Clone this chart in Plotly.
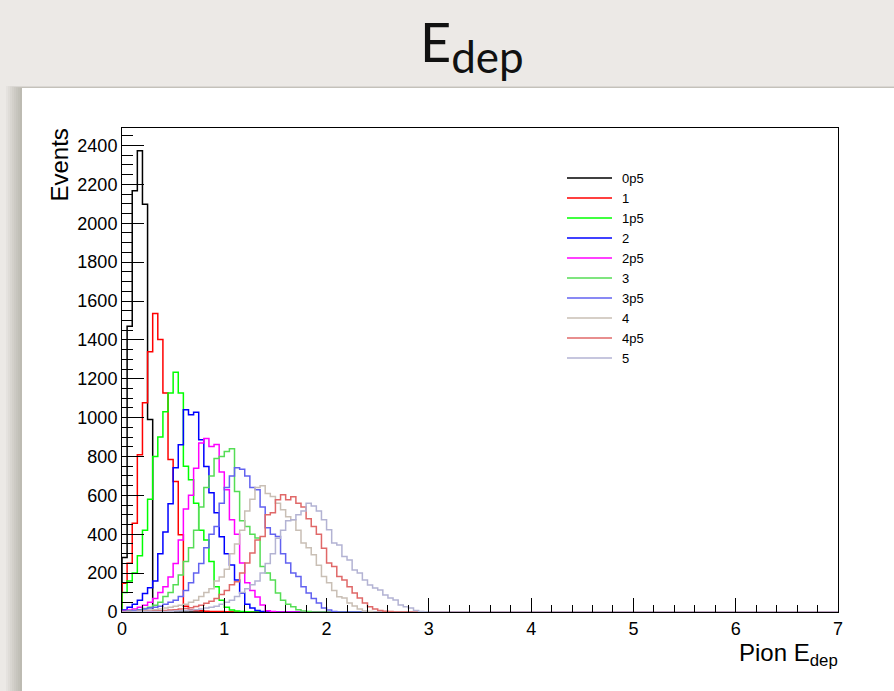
import numpy as np
import plotly.graph_objects as go

# ---------------- data ----------------
XMIN, XMAX, NBINS = 0.0, 7.0, 140
names = ["0p5", "1", "1p5", "2", "2p5", "3", "3p5", "4", "4p5", "5"]

h_0p5 = [280, 1470, 2167, 2373, 2098, 990, 12, 6, 3, 2, 1]
h_1 = [148, 251, 457, 809, 1076, 1339, 1536, 1402, 1127, 784, 672, 397, 30, 12, 8, 6, 4, 3, 2, 2, 1]
h_1p5 = [100, 160, 200, 290, 420, 580, 800, 900, 1030, 1127, 1234, 1127, 750, 680, 560, 420, 370, 260,
         130, 60, 25, 10, 5, 2, 1]
h_2 = [10, 25, 40, 60, 95, 125, 160, 300, 412, 557, 742, 861, 1041, 1015, 1027, 886, 749, 613, 510, 387,
       300, 242, 165, 98, 40, 20, 8, 3, 1]
h_2p5 = [5, 10, 15, 25, 35, 50, 70, 100, 130, 180, 250, 370, 530, 600, 740, 870, 892, 852, 862, 720,
         629, 474, 400, 252, 150, 110, 77, 36, 6, 2]
h_3 = [3, 5, 8, 12, 18, 25, 35, 50, 80, 100, 140, 190, 260, 330, 420, 540, 640, 700, 790, 800, 826, 840,
       620, 470, 440, 400, 381, 234, 200, 165, 98, 60, 40, 27, 12, 5, 2]
h_3p5 = [2, 4, 6, 10, 15, 20, 25, 30, 40, 50, 60, 80, 110, 150, 200, 250, 330, 400, 440, 560, 640, 700,
         742, 735, 700, 640, 629, 540, 433, 400, 388, 300, 252, 200, 182, 130, 98, 70, 46, 20, 10, 3]
h_4 = [1, 2, 3, 5, 7, 10, 12, 15, 20, 25, 30, 35, 40, 50, 60, 80, 100, 120, 160, 180, 220, 300, 350, 420,
       520, 580, 640, 650, 610, 594, 560, 526, 490, 474, 420, 355, 330, 294, 240, 182, 150, 110, 79, 72,
       46, 31, 15, 5, 2]
h_4p5 = [0, 1, 1, 2, 3, 4, 5, 6, 8, 10, 12, 15, 18, 22, 28, 35, 45, 55, 70, 90, 110, 140, 156, 200, 252,
         304, 371, 388, 500, 510, 577, 603, 577, 593, 560, 540, 480, 440, 400, 328, 252, 234, 182, 165,
         130, 98, 72, 46, 27, 15, 8, 4, 2]
h_5 = [0, 0, 1, 1, 1, 2, 2, 3, 3, 4, 5, 6, 8, 10, 12, 15, 20, 25, 30, 40, 50, 60, 80, 100, 120, 140, 160,
       200, 250, 300, 380, 420, 470, 474, 500, 520, 560, 545, 520, 474, 423, 355, 345, 285, 268, 216, 200,
       165, 139, 124, 113, 88, 72, 62, 36, 27, 20, 8, 3, 1]
hists = [h_0p5, h_1, h_1p5, h_2, h_2p5, h_3, h_3p5, h_4, h_4p5, h_5]

colors = ["#000000", "#ff0000", "#00ff00", "#0000ff", "#ff00ff",
          "#55dd55", "#6262f0", "#c9bfb5", "#e06868", "#b3b3d3"]

x_ticks = [0, 1, 2, 3, 4, 5, 6, 7]
y_ticks = [0, 200, 400, 600, 800, 1000, 1200, 1400, 1600, 1800, 2000, 2200, 2400]
Y_MAX = 2490

# ---------------- layout geometry (pixels) ----------------
W, H = 894, 691
L, R, T, B = 122, 838, 128, 612


def px(xp):
    return (xp - L) / (R - L)


def py(yp):
    return (B - yp) / (B - T)


edges = np.linspace(XMIN, XMAX, NBINS + 1)

fig = go.Figure()
for name, vals, col in zip(names, hists, colors):
    full = list(vals) + [0] * (NBINS - len(vals))
    xs = [XMIN] + list(edges[:-1]) + [XMAX]
    ys = [0] + full + [full[-1]]
    fig.add_trace(go.Scatter(
        x=xs, y=ys, mode="lines", name=name, showlegend=False,
        line=dict(color=col, width=1.5, shape="hv"),
        hoverinfo="skip",
    ))

# white panel with soft shadow on the left
shapes = []
for i in range(8):
    off = 16 - 2 * i
    shapes.append(dict(type="rect", xref="paper", yref="paper", layer="below",
                       x0=px(22 - off), x1=px(W + 20), y0=py(H + 20), y1=py(88 - off / 8),
                       fillcolor="rgba(80,70,60,0.04)", line=dict(width=0)))
shapes.append(dict(type="rect", xref="paper", yref="paper", layer="below",
                   x0=px(22), x1=px(W + 20), y0=py(H + 20), y1=py(88),
                   fillcolor="white", line=dict(width=0)))

# legend drawn as line samples + labels
LEG_X0, LEG_X1, LEG_TX, LEG_Y0, LEG_DY = 567, 612, 620, 178, 20
for i, (name, col) in enumerate(zip(names, colors)):
    yy = LEG_Y0 + LEG_DY * i
    shapes.append(dict(type="line", xref="paper", yref="paper",
                       x0=px(LEG_X0), x1=px(LEG_X1), y0=py(yy), y1=py(yy),
                       line=dict(color=col, width=1.5)))

annotations = [
    dict(text="E<sub><span style='font-size:44px'>dep</span></sub>", xref="paper", yref="paper",
         x=px(472), y=py(45), xanchor="center", yanchor="middle", showarrow=False,
         font=dict(family="Lato", size=54, color="#111111")),
    dict(text="Events", xref="paper", yref="paper", x=px(59), y=py(127),
         xanchor="center", yanchor="top", textangle=-90, showarrow=False,
         font=dict(family="Liberation Sans", size=24, color="black")),
    dict(text="Pion E<sub>dep</sub>", xref="paper", yref="paper", x=px(840), y=py(637),
         xanchor="right", yanchor="top", showarrow=False,
         font=dict(family="Liberation Sans", size=24, color="black")),
]
for i, name in enumerate(names):
    yy = LEG_Y0 + LEG_DY * i
    annotations.append(dict(text=name, xref="paper", yref="paper", x=px(LEG_TX), y=py(yy),
                            xanchor="left", yanchor="middle", showarrow=False,
                            font=dict(family="Liberation Sans", size=13, color="black")))

fig.update_layout(
    width=W, height=H,
    margin=dict(l=L, r=W - R, t=T, b=H - B),
    paper_bgcolor="#ece9e6",
    plot_bgcolor="white",
    showlegend=False,
    shapes=shapes,
    annotations=annotations,
    xaxis=dict(range=[XMIN, XMAX], tickvals=x_ticks, ticktext=[str(v) for v in x_ticks],
               ticks="inside", ticklen=14, tickwidth=1, tickcolor="black",
               minor=dict(dtick=0.2, ticks="inside", ticklen=7, tickcolor="black", tickwidth=1),
               showline=True, linecolor="black", linewidth=1, mirror=True,
               showgrid=False, zeroline=False,
               tickfont=dict(family="Liberation Sans", size=18, color="black")),
    yaxis=dict(range=[0, Y_MAX], tickvals=y_ticks, ticktext=[str(v) for v in y_ticks],
               ticks="inside", ticklen=22, tickwidth=1, tickcolor="black",
               minor=dict(dtick=50, ticks="inside", ticklen=11, tickcolor="black", tickwidth=1),
               showline=True, linecolor="black", linewidth=1, mirror=True,
               showgrid=False, zeroline=False,
               tickfont=dict(family="Liberation Sans", size=18, color="black")),
)

fig.write_html("out.html")
